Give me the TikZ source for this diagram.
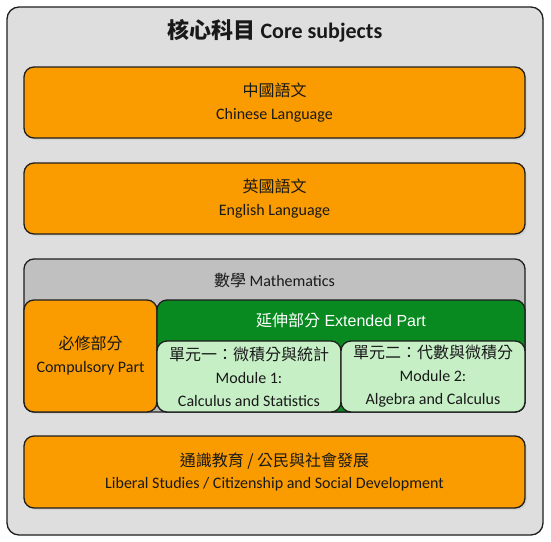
\documentclass[tikz,border=0pt]{standalone}
\usepackage{fontspec}
\setmainfont{Carlito}
\newfontfamily\cjk{Noto Sans CJK TC}
\newfontfamily\arialf{Liberation Sans}
\usetikzlibrary{shadows}
\definecolor{outergray}{RGB}{222,222,222}
\definecolor{mathgray}{RGB}{192,192,192}
\definecolor{orangefill}{RGB}{250,155,0}
\definecolor{greenfill}{RGB}{8,138,32}
\definecolor{lightgreen}{RGB}{198,239,198}
\definecolor{edge}{RGB}{30,30,30}
\begin{document}
\begin{tikzpicture}[x=1pt,y=-1pt,
  every node/.style={font=\fontsize{16}{23}\selectfont, inner sep=0pt, outer sep=0pt},
  boxbase/.style={draw=edge, line width=1.3pt, rounded corners=10pt, rectangle},
  orangebox/.style={boxbase, fill=orangefill, text=black!90, align=center,
     drop shadow={opacity=0.12, shadow xshift=2pt, shadow yshift=-2pt}},
  graybox/.style={boxbase, fill=mathgray},
  greenbox/.style={boxbase, fill=greenfill},
  modbox/.style={boxbase, fill=lightgreen, align=center, text=black!90},
  lbl/.style={align=center, text=black!90}]
\useasboundingbox (0,0) rectangle (551,541);
% outer container
\node[boxbase, fill=outergray, rounded corners=12pt, minimum width=536pt, minimum height=528pt] (outer) at (275,271) {};
\node[font=\fontsize{22}{26}\selectfont\bfseries, text=black!90] (title) at (275,31) {{\cjk 核心科目} Core subjects};
% Chinese
\node[orangebox, minimum width=501pt, minimum height=71pt] (chi) at (274.5,102.5)
  {{\cjk 中國語文}\\Chinese Language};
% English
\node[orangebox, minimum width=501pt, minimum height=71pt] (eng) at (274.5,198.5)
  {{\cjk 英國語文}\\English Language};
% Mathematics
\node[graybox, minimum width=501pt, minimum height=153pt] (math) at (274.5,335.5) {};
\node[lbl] (mathlbl) at (274.5,280) {{\cjk 數學} Mathematics};
\node[orangebox, drop shadow={opacity=0}, minimum width=133pt, minimum height=112pt] (comp) at (90.5,356)
  {{\cjk 必修部分}\\Compulsory Part};
\node[greenbox, minimum width=368pt, minimum height=112pt] (ext) at (341,356) {};
\node[text=white, font=\fontsize{16}{20}\selectfont\arialf] (extlbl) at (341,320) {{\cjk 延伸部分} Extended Part};
\node[modbox, minimum width=184pt, minimum height=71pt] (mod1) at (249,376.5)
  {{\cjk 單元一：微積分與統計}\\Module 1:\\Calculus and Statistics};
\node[modbox, minimum width=184pt, minimum height=71pt] (mod2) at (433,376.5)
  {{\cjk 單元二：代數與微積分}\\Module 2:\\Algebra and Calculus};
% Liberal studies
\node[orangebox, minimum width=501pt, minimum height=72pt, font=\fontsize{16}{21.5}\selectfont] (lib) at (274.5,472)
  {{\cjk 通識教育 / 公民與社會發展}\\Liberal Studies / Citizenship and Social Development};
\end{tikzpicture}
\end{document}
